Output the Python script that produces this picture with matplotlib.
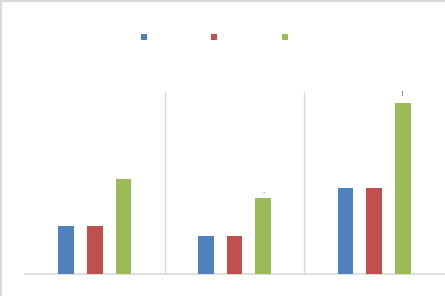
import matplotlib
matplotlib.use("Agg")
import matplotlib.pyplot as plt
import numpy as np
from matplotlib.patches import Patch, Rectangle

categories = ["Category 1", "Category 2", "Category 3"]
series_names = ["Series 1", "Series 2", "Series 3"]
series1 = [5, 4, 9]
series2 = [5, 4, 9]
series3 = [10, 8, 18]
colors = ["#4F81BD", "#C0504D", "#9BBB59"]

W, H = 445, 296
fig = plt.figure(figsize=(W / 100, H / 100), dpi=100)
fig.patch.set_facecolor("white")

ax = fig.add_axes([25 / W, (H - 273.5) / H, 419 / W, 181.5 / H])
x = np.arange(len(categories))
bw = 0.114
off = 0.205
for i, (vals, c, name) in enumerate(zip([series1, series2, series3], colors, series_names)):
    ax.bar(x + (i - 1) * off, vals, width=bw, color=c, label=name, zorder=3)

ax.set_xlim(-0.5, len(categories) - 0.5)
ax.set_ylim(0, 19.15)
for b in np.arange(0.5, len(categories) - 0.5, 1.0):
    ax.axvline(b, color="#D9D9D9", lw=1, zorder=1)
for s in ["top", "left", "right"]:
    ax.spines[s].set_visible(False)
ax.spines["bottom"].set_color("#D9D9D9")
ax.spines["bottom"].set_linewidth(1.2)
ax.set_xticks(x)
ax.set_xticklabels(categories, color="white", fontsize=7)
ax.tick_params(length=0)
ax.set_yticks([])

# residual label marks
ax.text(x[2] + off, series3[2] + 0.6, "!", fontsize=5, color="#404040", ha="center", va="bottom")
ax.text(x[1] + off, series3[1] + 0.4, ".", fontsize=5, color="#404040", ha="center", va="bottom")

handles = [Patch(facecolor=c) for c in colors]
leg = fig.legend(handles, series_names, loc="center", bbox_to_anchor=(236 / W, 1 - 37.5 / H),
                 ncol=3, frameon=False, fontsize=7, handlelength=0.62, handleheight=0.62,
                 handletextpad=0.4, columnspacing=2.2)
for t in leg.get_texts():
    t.set_color("white")

fig.patches.append(Rectangle((0.5 / W, -0.1), 1.2, 1.1 - 1 / H, transform=fig.transFigure,
                             fill=False, edgecolor="#D9D9D9", lw=1.5, clip_on=False))

fig.savefig("out.png", dpi=100)
